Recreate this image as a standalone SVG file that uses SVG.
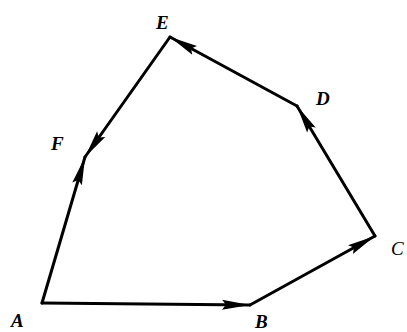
<svg xmlns="http://www.w3.org/2000/svg" width="407" height="332" viewBox="0 0 407 332">
<style>
.edge{fill:none;stroke:#000;stroke-width:3;stroke-linecap:round;stroke-linejoin:round}
.lbl{font-family:"Liberation Serif","Times New Roman",serif;font-style:italic;font-weight:bold;font-size:19px;fill:#000}
</style>
<defs>
<marker id="arr" markerUnits="userSpaceOnUse" markerWidth="32" markerHeight="14" refX="30" refY="7" orient="auto">
<path d="M30,7 L2,2 L6,7 L2,12 Z" fill="#000"/>
</marker>
</defs>
<rect width="407" height="332" fill="#fff"/>
<g id="connectors">
<line class="edge" x1="42" y1="303" x2="250" y2="305" marker-end="url(#arr)"/>
<line class="edge" x1="250" y1="305" x2="375" y2="236" marker-end="url(#arr)"/>
<line class="edge" x1="375" y1="236" x2="297" y2="106" marker-end="url(#arr)"/>
<line class="edge" x1="297" y1="106" x2="170" y2="37" marker-end="url(#arr)"/>
<line class="edge" x1="170" y1="37" x2="85" y2="157" marker-end="url(#arr)"/>
<line class="edge" x1="42" y1="303" x2="85" y2="157" marker-end="url(#arr)"/>
</g>
<g id="A"><text class="lbl" x="11" y="327">A</text></g>
<g id="B"><text class="lbl" x="255" y="328">B</text></g>
<g id="C"><text class="lbl" x="391" y="255" style="font-weight:normal">C</text></g>
<g id="D"><text class="lbl" x="316" y="105">D</text></g>
<g id="E"><text class="lbl" x="156" y="29">E</text></g>
<g id="F"><text class="lbl" x="51" y="150">F</text></g>
</svg>
